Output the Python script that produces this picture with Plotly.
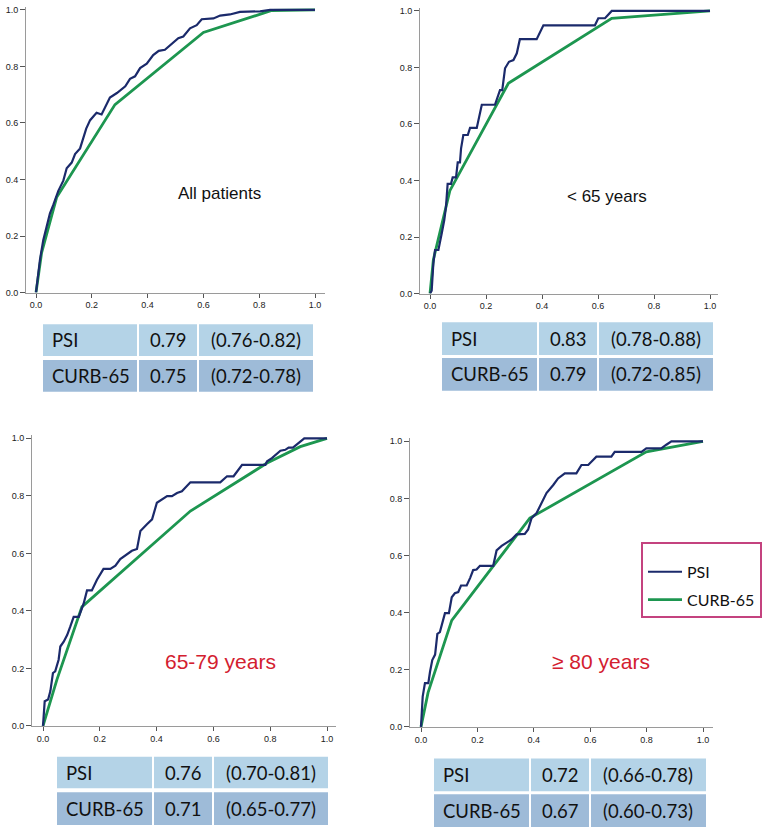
import plotly.graph_objects as go

W, H = 771, 837

# ---------------- data ----------------
panel_titles = ["All patients", "< 65 years", "65-79 years", "≥ 80 years"]
title_colors = ["#111111", "#111111", "#d3202f", "#d3202f"]

psi_x_all = [0, 0.014, 0.026, 0.05, 0.062, 0.08, 0.098, 0.11, 0.128, 0.14, 0.158, 0.17, 0.18, 0.194, 0.217, 0.235, 0.253, 0.265, 0.29, 0.32, 0.337, 0.355, 0.373, 0.397, 0.42, 0.44, 0.462, 0.486, 0.51, 0.528, 0.552, 0.576, 0.594, 0.636, 0.66, 0.695, 0.731, 0.803, 0.839, 1.0]
psi_y_all = [0, 0.115, 0.185, 0.28, 0.31, 0.36, 0.396, 0.44, 0.46, 0.49, 0.51, 0.55, 0.58, 0.61, 0.636, 0.63, 0.665, 0.69, 0.706, 0.73, 0.756, 0.765, 0.794, 0.81, 0.84, 0.855, 0.859, 0.88, 0.9, 0.906, 0.935, 0.946, 0.967, 0.97, 0.98, 0.984, 0.993, 0.995, 1.0, 1.0]
curb_x_all = [0, 0.02, 0.074, 0.283, 0.6, 0.845, 1.0]
curb_y_all = [0, 0.14, 0.337, 0.665, 0.92, 0.998, 1.0]

psi_x_u65 = [0, 0.006, 0.012, 0.018, 0.03, 0.036, 0.042, 0.051, 0.057, 0.063, 0.075, 0.081, 0.093, 0.099, 0.107, 0.111, 0.119, 0.135, 0.143, 0.167, 0.185, 0.232, 0.25, 0.258, 0.268, 0.282, 0.298, 0.31, 0.321, 0.381, 0.405, 0.589, 0.601, 0.625, 0.649, 1.0]
psi_y_u65 = [0, 0.01, 0.107, 0.154, 0.154, 0.189, 0.213, 0.26, 0.306, 0.388, 0.388, 0.411, 0.411, 0.464, 0.464, 0.514, 0.561, 0.561, 0.586, 0.586, 0.668, 0.668, 0.72, 0.72, 0.797, 0.82, 0.826, 0.85, 0.9, 0.9, 0.949, 0.949, 0.974, 0.974, 1.0, 1.0]
curb_x_u65 = [0, 0.012, 0.071, 0.28, 0.649, 1.0]
curb_y_u65 = [0, 0.12, 0.364, 0.744, 0.974, 1.0]

psi_x_6579 = [0, 0.006, 0.018, 0.026, 0.035, 0.043, 0.055, 0.061, 0.073, 0.085, 0.096, 0.108, 0.126, 0.143, 0.155, 0.172, 0.19, 0.213, 0.237, 0.255, 0.272, 0.296, 0.313, 0.331, 0.343, 0.366, 0.384, 0.401, 0.437, 0.454, 0.472, 0.489, 0.519, 0.624, 0.648, 0.671, 0.701, 0.783, 0.789, 0.806, 0.836, 0.853, 0.865, 0.88, 0.92, 1.0]
psi_y_6579 = [0, 0.086, 0.092, 0.121, 0.184, 0.19, 0.23, 0.276, 0.293, 0.316, 0.345, 0.379, 0.379, 0.425, 0.471, 0.471, 0.508, 0.546, 0.546, 0.557, 0.58, 0.598, 0.609, 0.615, 0.678, 0.701, 0.718, 0.776, 0.799, 0.799, 0.81, 0.816, 0.847, 0.847, 0.868, 0.868, 0.908, 0.908, 0.92, 0.931, 0.957, 0.96, 0.968, 0.968, 1.0, 1.0]
curb_x_6579 = [0, 0.049, 0.137, 0.519, 0.789, 0.906, 1.0]
curb_y_6579 = [0, 0.161, 0.414, 0.747, 0.914, 0.971, 1.0]

psi_x_80 = [0, 0.006, 0.014, 0.026, 0.032, 0.04, 0.05, 0.058, 0.067, 0.073, 0.085, 0.099, 0.109, 0.12, 0.132, 0.142, 0.162, 0.174, 0.185, 0.197, 0.209, 0.256, 0.268, 0.286, 0.303, 0.321, 0.339, 0.368, 0.38, 0.392, 0.41, 0.427, 0.445, 0.469, 0.486, 0.51, 0.551, 0.569, 0.593, 0.622, 0.675, 0.687, 0.782, 0.799, 0.852, 0.87, 0.888, 1.0]
psi_y_80 = [0, 0.106, 0.153, 0.153, 0.193, 0.234, 0.253, 0.326, 0.332, 0.355, 0.398, 0.398, 0.454, 0.468, 0.472, 0.495, 0.495, 0.521, 0.549, 0.551, 0.564, 0.564, 0.618, 0.634, 0.645, 0.656, 0.674, 0.676, 0.691, 0.731, 0.749, 0.784, 0.819, 0.847, 0.87, 0.888, 0.888, 0.917, 0.917, 0.946, 0.946, 0.963, 0.963, 0.975, 0.975, 0.988, 1.0, 1.0]
curb_x_80 = [0, 0.025, 0.109, 0.386, 0.799, 1.0]
curb_y_80 = [0, 0.12, 0.373, 0.731, 0.963, 1.0]

psi_x = [psi_x_all, psi_x_u65, psi_x_6579, psi_x_80]
psi_y = [psi_y_all, psi_y_u65, psi_y_6579, psi_y_80]
curb_x = [curb_x_all, curb_x_u65, curb_x_6579, curb_x_80]
curb_y = [curb_y_all, curb_y_u65, curb_y_6579, curb_y_80]

table_labels = ["PSI", "CURB-65"]
psi_auc = ["0.79", "0.83", "0.76", "0.72"]
psi_ci = ["(0.76-0.82)", "(0.78-0.88)", "(0.70-0.81)", "(0.66-0.78)"]
curb_auc = ["0.75", "0.79", "0.71", "0.67"]
curb_ci = ["(0.72-0.78)", "(0.72-0.85)", "(0.65-0.77)", "(0.60-0.73)"]

tick_vals = [0, 0.2, 0.4, 0.6, 0.8, 1.0]
tick_text = ["0.0", "0.2", "0.4", "0.6", "0.8", "1.0"]

# ---------------- layout geometry (pixels) ----------------
# y-axis px, x0 px, x1 px, x-axis end px, y0 px, y1 px, y-axis top px
axes_px = [
    (26, 36, 315, 325, 293, 8, 5),
    (420, 430, 710, 718, 294, 9, 6),
    (32, 43, 327, 336, 730, 440, 437),
    (410, 421, 703, 713, 731, 443, 440),
]
title_pos = [(219, 193, 17), (607, 196, 17), (221, 665, 21), (601, 665, 21)]
# left, c1, c2, right, r1top, r1bot, r2top, r2bot
tables_px = [
    (43, 138, 198, 313, 325, 357, 361, 393),
    (442, 538, 598, 713, 323, 356, 359, 392),
    (57, 153, 213, 328, 761, 793, 797, 830),
    (434, 530, 590, 706, 763, 796, 799, 832),
]

PSI_COLOR = "#1b2a6b"
CURB_COLOR = "#1d9650"
ROW_COLORS = ["#b4d3e7", "#9ebbd8"]
TABLE_FONT = "Lato, Carlito, 'Open Sans', sans-serif"


def fx(px):
    return px / W


def fy(py):
    return 1 - py / H


fig = go.Figure()
layout_axes = {}
annotations = []
shapes = []

for i in range(4):
    n = "" if i == 0 else str(i + 1)
    ax, x0, x1, xend, y0, y1, ytop = axes_px[i]
    xs = x1 - x0
    ys = y0 - y1
    layout_axes["xaxis" + n] = dict(
        domain=[fx(ax), fx(xend)],
        range=[(ax - x0) / xs, (xend - x0) / xs],
        anchor="y" + n,
        showgrid=False, zeroline=False, showline=True, linecolor="#9a9a9a", linewidth=1,
        ticks="outside", ticklen=4, tickcolor="#555", tickwidth=1,
        tickvals=tick_vals, ticktext=tick_text,
        tickfont=dict(family="Liberation Sans, Arial", size=9, color="#222"),
        fixedrange=True,
    )
    layout_axes["yaxis" + n] = dict(
        domain=[fy(y0), fy(ytop)],
        range=[0, (y0 - ytop) / ys],
        anchor="x" + n,
        showgrid=False, zeroline=False, showline=True, linecolor="#9a9a9a", linewidth=1,
        ticks="outside", ticklen=5, tickcolor="#555", tickwidth=1,
        tickvals=tick_vals, ticktext=tick_text,
        tickfont=dict(family="Liberation Sans, Arial", size=9, color="#222"),
        fixedrange=True,
    )
    fig.add_trace(go.Scatter(
        x=curb_x[i], y=curb_y[i], mode="lines", name="CURB-65",
        line=dict(color=CURB_COLOR, width=2.8), legendgroup="curb",
        xaxis="x" + n, yaxis="y" + n, showlegend=(i == 3), legendrank=2,
    ))
    fig.add_trace(go.Scatter(
        x=psi_x[i], y=psi_y[i], mode="lines", name="PSI",
        line=dict(color=PSI_COLOR, width=2.2), legendgroup="psi",
        xaxis="x" + n, yaxis="y" + n, showlegend=(i == 3), legendrank=1,
    ))

    # panel label
    tx, ty, ts = title_pos[i]
    annotations.append(dict(
        x=fx(tx), y=fy(ty), xref="paper", yref="paper", text=panel_titles[i],
        showarrow=False, xanchor="center", yanchor="middle",
        font=dict(family="Liberation Sans, Arial", size=ts, color=title_colors[i]),
    ))

    # AUC table
    l, c1, c2, r, r1t, r1b, r2t, r2b = tables_px[i]
    rows = [(r1t, r1b, table_labels[0], psi_auc[i], psi_ci[i]),
            (r2t, r2b, table_labels[1], curb_auc[i], curb_ci[i])]
    for k, (rt, rb, lab, auc, ci) in enumerate(rows):
        for (cl, cr) in [(l, c1 - 1), (c1 + 1, c2 - 1), (c2 + 1, r)]:
            shapes.append(dict(
                type="rect", xref="paper", yref="paper",
                x0=fx(cl), x1=fx(cr), y0=fy(rb), y1=fy(rt),
                fillcolor=ROW_COLORS[k], line=dict(width=0), layer="below",
            ))
        ym = fy((rt + rb) / 2)
        annotations.append(dict(x=fx(l + 7), y=ym, xref="paper", yref="paper", text=lab,
                                showarrow=False, xanchor="left", yanchor="middle",
                                font=dict(family=TABLE_FONT, size=18.5, color="#111")))
        annotations.append(dict(x=fx((c1 + c2) / 2), y=ym, xref="paper", yref="paper", text=auc,
                                showarrow=False, xanchor="center", yanchor="middle",
                                font=dict(family=TABLE_FONT, size=18.5, color="#111")))
        annotations.append(dict(x=fx((c2 + r) / 2), y=ym, xref="paper", yref="paper", text=ci,
                                showarrow=False, xanchor="center", yanchor="middle",
                                font=dict(family=TABLE_FONT, size=18.5, color="#111")))

fig.update_layout(
    width=W, height=H,
    margin=dict(l=0, r=0, t=0, b=0),
    paper_bgcolor="white", plot_bgcolor="white",
    annotations=annotations, shapes=shapes,
    legend=dict(
        x=fx(641), y=fy(545), xanchor="left", yanchor="top",
        bordercolor="#c4437f", borderwidth=2, bgcolor="white",
        font=dict(family=TABLE_FONT, size=16, color="#111"),
        itemwidth=34, traceorder="grouped", tracegroupgap=4,
        title=dict(text=" ", font=dict(size=8)),
    ),
    **layout_axes,
)

fig.write_html("out.html", config={"displayModeBar": False},
               post_script="document.body.style.margin='0';")
